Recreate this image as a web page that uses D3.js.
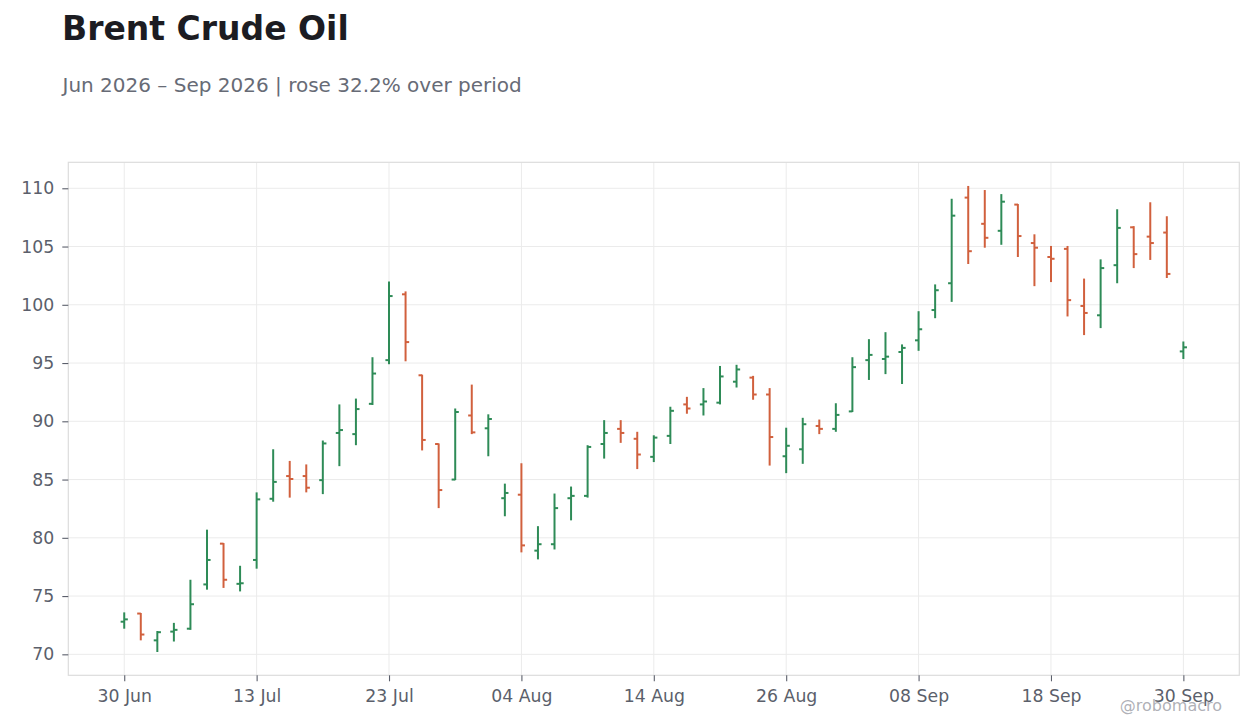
<!DOCTYPE html>
<html>
<head>
<meta charset="utf-8">
<title>Brent Crude Oil</title>
<script src="https://cdn.jsdelivr.net/npm/d3@7"></script>
<style>
  html, body { margin: 0; padding: 0; background: #fff; }
  svg { display: block; font-family: "DejaVu Sans", sans-serif; }
</style>
</head>
<body>
<div id="chart"></div>
<script>
// trading days (3 Jul and 7 Sep are holidays, no bar)
const dates = [
  "2026-06-30","2026-07-01","2026-07-02","2026-07-06","2026-07-07","2026-07-08","2026-07-09","2026-07-10",
  "2026-07-13","2026-07-14","2026-07-15","2026-07-16","2026-07-17","2026-07-20","2026-07-21","2026-07-22",
  "2026-07-23","2026-07-24","2026-07-27","2026-07-28","2026-07-29","2026-07-30","2026-07-31","2026-08-03",
  "2026-08-04","2026-08-05","2026-08-06","2026-08-07","2026-08-10","2026-08-11","2026-08-12","2026-08-13",
  "2026-08-14","2026-08-17","2026-08-18","2026-08-19","2026-08-20","2026-08-21","2026-08-24","2026-08-25",
  "2026-08-26","2026-08-27","2026-08-28","2026-08-31","2026-09-01","2026-09-02","2026-09-03","2026-09-04",
  "2026-09-08","2026-09-09","2026-09-10","2026-09-11","2026-09-14","2026-09-15","2026-09-16","2026-09-17",
  "2026-09-18","2026-09-21","2026-09-22","2026-09-23","2026-09-24","2026-09-25","2026-09-28","2026-09-29",
  "2026-09-30"
];

const opens = [
  72.8, 73.5, 71.2, 71.95, 72.2, 76.0, 79.5, 76.05,
  78.1, 83.35, 85.3, 85.3, 84.95, 89.0, 88.9, 91.5,
  95.25, 100.9, 93.95, 88.05, 85.0, 90.5, 89.4, 83.4,
  83.7, 78.9, 79.45, 83.4, 83.6, 88.05, 89.35, 88.5,
  86.95, 88.75, 91.45, 91.45, 91.6, 93.4, 93.75, 92.3,
  87.0, 87.6, 89.6, 89.35, 90.85, 95.25, 95.35, 95.95,
  96.95, 99.55, 101.85, 109.2, 106.95, 106.35, 108.6, 105.3,
  104.1, 104.8, 99.9, 99.1, 103.4, 106.65, 105.85, 106.2,
  96.0
];
const highs = [
  73.6, 73.55, 72.0, 72.7, 76.4, 80.7, 79.55, 77.6,
  83.9, 87.6, 86.6, 86.3, 88.35, 91.45, 91.95, 95.5,
  102.0, 101.15, 94.0, 88.1, 91.1, 93.15, 90.6, 84.65,
  86.4, 81.0, 83.8, 84.4, 87.95, 90.1, 90.1, 89.1,
  88.8, 91.25, 92.1, 92.85, 94.75, 94.85, 93.9, 92.85,
  89.45, 90.3, 90.15, 91.55, 95.5, 97.05, 97.65, 96.6,
  99.45, 101.75, 109.1, 110.2, 109.85, 109.5, 108.65, 106.05,
  105.05, 105.05, 102.25, 103.9, 108.2, 106.75, 108.8, 107.6,
  96.85
];
const lows = [
  72.2, 71.2, 70.2, 71.1, 72.1, 75.55, 75.7, 75.4,
  77.35, 83.1, 83.45, 83.9, 83.75, 86.15, 87.95, 91.4,
  94.9, 95.15, 87.5, 82.55, 84.95, 88.9, 87.0, 81.85,
  78.75, 78.15, 79.0, 81.5, 83.45, 86.8, 88.15, 85.9,
  86.5, 88.05, 90.65, 90.5, 91.45, 92.9, 91.85, 86.2,
  85.55, 86.35, 88.9, 89.1, 90.8, 93.55, 94.05, 93.2,
  96.05, 98.85, 100.25, 103.5, 104.9, 105.15, 104.1, 101.6,
  101.95, 99.0, 97.4, 98.0, 101.85, 103.15, 103.85, 102.3,
  95.35
];
const closes = [
  73.0, 71.7, 71.9, 72.1, 74.3, 78.1, 76.4, 76.1,
  83.3, 84.8, 85.05, 84.3, 88.1, 89.25, 91.05, 94.1,
  100.75, 96.8, 88.4, 84.1, 90.8, 89.05, 90.2, 83.85,
  79.35, 79.45, 82.55, 83.6, 87.8, 89.0, 89.0, 87.15,
  88.6, 90.9, 91.1, 91.7, 93.85, 94.45, 92.3, 88.65,
  87.9, 89.75, 89.35, 90.55, 94.65, 95.7, 95.55, 96.3,
  97.9, 101.25, 107.65, 104.6, 105.75, 108.85, 105.9, 104.9,
  103.95, 100.4, 99.3, 103.15, 106.6, 104.35, 105.3, 102.65,
  96.35
];

const yTicks = [70, 75, 80, 85, 90, 95, 100, 105, 110];
const xTickLabels = ["30 Jun", "13 Jul", "23 Jul", "04 Aug", "14 Aug", "26 Aug", "08 Sep", "18 Sep", "30 Sep"];

const titleText = "Brent Crude Oil";
const subtitleText = "Jun 2026 \u2013 Sep 2026 | rose 32.2% over period";
const creditText = "@robomacro";

document.addEventListener("DOMContentLoaded", function() {
    const width = 1260, height = 728;
    const margin = { top: 162.3, right: 20.7, bottom: 52.7, left: 68.3 };

    const upColor = "#2e8b57";
    const downColor = "#d1603d";
    const tickColor = "#5b5f6b";

    const parseDate = d3.timeParse("%Y-%m-%d");
    const fmtDate = d3.timeFormat("%d %b");

    const bars = dates.map((d, i) => ({
        i: i,
        date: parseDate(d),
        o: opens[i], h: highs[i], l: lows[i], c: closes[i]
    }));

    const svg = d3.select("#chart").append("svg")
        .attr("width", width)
        .attr("height", height);

    // scale on trading-day index so weekends / holidays leave no gap
    const xPad = 3.38;
    const x = d3.scaleLinear()
        .domain([-xPad, bars.length - 1 + xPad])
        .range([margin.left, width - margin.right]);

    const lo = d3.min(lows), hi = d3.max(highs);
    const yPad = (hi - lo) * 0.05;
    const y = d3.scaleLinear()
        .domain([lo - yPad, hi + yPad + 0.03])
        .range([height - margin.bottom, margin.top]);

    const xTickIdx = xTickLabels.map(lab => bars.findIndex(b => fmtDate(b.date) === lab));

    // grid
    svg.append("g")
        .selectAll("line")
        .data(yTicks)
        .enter()
        .append("line")
        .attr("x1", margin.left)
        .attr("x2", width - margin.right)
        .attr("y1", d => y(d))
        .attr("y2", d => y(d))
        .attr("stroke", "#ebebeb")
        .attr("stroke-width", 1);

    svg.append("g")
        .selectAll("line")
        .data(xTickIdx)
        .enter()
        .append("line")
        .attr("x1", d => x(d))
        .attr("x2", d => x(d))
        .attr("y1", margin.top)
        .attr("y2", height - margin.bottom)
        .attr("stroke", "#ebebeb")
        .attr("stroke-width", 1);

    // frame
    svg.append("rect")
        .attr("x", margin.left)
        .attr("y", margin.top)
        .attr("width", width - margin.left - margin.right)
        .attr("height", height - margin.top - margin.bottom)
        .attr("fill", "none")
        .attr("stroke", "#dcdcdc")
        .attr("stroke-width", 1.2);

    // axes
    const yAxis = svg.append("g")
        .attr("transform", `translate(${margin.left},0)`)
        .call(d3.axisLeft(y).tickValues(yTicks).tickSize(6).tickPadding(8));

    const xAxis = svg.append("g")
        .attr("transform", `translate(0,${height - margin.bottom})`)
        .call(d3.axisBottom(x)
            .tickValues(xTickIdx)
            .tickFormat((d, k) => xTickLabels[k])
            .tickSize(6)
            .tickPadding(8));

    [yAxis, xAxis].forEach(ax => {
        ax.select(".domain").remove();
        ax.selectAll(".tick line").attr("stroke", tickColor).attr("stroke-width", 1.1);
        ax.selectAll(".tick text")
            .attr("fill", tickColor)
            .style("font-family", "'DejaVu Sans', sans-serif")
            .style("font-size", "17.3px");
    });

    // OHLC bars
    const tickLen = 3.6;
    const g = svg.append("g")
        .selectAll("g.bar")
        .data(bars)
        .enter()
        .append("g")
        .attr("class", "bar")
        .attr("stroke", d => d.c >= d.o ? upColor : downColor)
        .attr("stroke-width", 2)
        .attr("stroke-linecap", "butt");

    g.append("line")  // high - low
        .attr("x1", d => x(d.i))
        .attr("x2", d => x(d.i))
        .attr("y1", d => y(d.h))
        .attr("y2", d => y(d.l));

    g.append("line")  // open tick, left
        .attr("x1", d => x(d.i) - tickLen)
        .attr("x2", d => x(d.i))
        .attr("y1", d => y(d.o))
        .attr("y2", d => y(d.o));

    g.append("line")  // close tick, right
        .attr("x1", d => x(d.i))
        .attr("x2", d => x(d.i) + tickLen)
        .attr("y1", d => y(d.c))
        .attr("y2", d => y(d.c));

    // titles
    svg.append("text")
        .attr("x", 62)
        .attr("y", 40)
        .attr("fill", "#1c1c22")
        .attr("font-size", "33px")
        .attr("font-weight", "bold")
        .text(titleText);

    svg.append("text")
        .attr("x", 62.5)
        .attr("y", 92)
        .attr("fill", "#676b76")
        .attr("font-size", "20px")
        .text(subtitleText);

    // credit, sits over the last date label as in the source
    svg.append("text")
        .attr("x", 1222)
        .attr("y", 711)
        .attr("text-anchor", "end")
        .attr("fill", "#9a9ca4")
        .attr("fill-opacity", 0.8)
        .attr("font-size", "16px")
        .text(creditText);
});
</script>
</body>
</html>
